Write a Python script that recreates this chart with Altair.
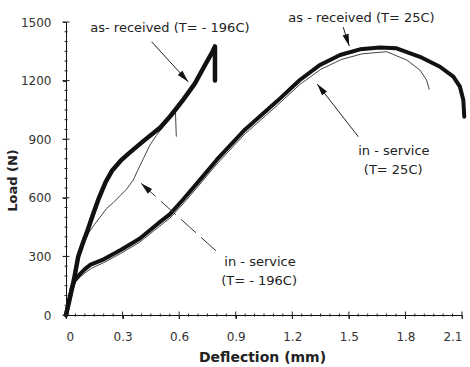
import math
import altair as alt
import pandas as pd

# ---- curve data (deflection mm, load N) ----
rec_m196_x = [0, 0.02, 0.042, 0.065, 0.09, 0.115, 0.145, 0.175, 0.21, 0.245, 0.29, 0.33, 0.41, 0.5, 0.555, 0.62, 0.684, 0.732, 0.778, 0.79, 0.79]
rec_m196_y = [0, 85, 180, 300, 370, 435, 520, 600, 680, 740, 790, 825, 890, 960, 1020, 1100, 1186, 1271, 1350, 1375, 1200]

svc_m196_x = [0, 0.02, 0.042, 0.065, 0.09, 0.12, 0.15, 0.18, 0.215, 0.25, 0.286, 0.322, 0.357, 0.38, 0.41, 0.445, 0.48, 0.516, 0.534, 0.555, 0.58, 0.585]
svc_m196_y = [0, 85, 180, 290, 360, 420, 462, 500, 545, 575, 610, 645, 692, 740, 800, 870, 920, 964, 995, 1020, 1050, 915]

rec_25_x = [0, 0.015, 0.03, 0.045, 0.07, 0.1, 0.13, 0.2, 0.29, 0.39, 0.49, 0.55, 0.62, 0.7, 0.8, 0.95, 1.12, 1.24, 1.347, 1.453, 1.559, 1.665, 1.753, 1.877, 1.983, 2.054, 2.089, 2.107, 2.112]
rec_25_y = [0, 70, 135, 175, 205, 235, 258, 285, 333, 390, 470, 515, 590, 680, 795, 950, 1095, 1203, 1280, 1331, 1360, 1370, 1365, 1322, 1271, 1220, 1169, 1101, 1015]

svc_25_x = [0, 0.015, 0.03, 0.045, 0.07, 0.1, 0.14, 0.2, 0.29, 0.39, 0.49, 0.55, 0.62, 0.7, 0.8, 0.95, 1.12, 1.24, 1.35, 1.46, 1.57, 1.7, 1.806, 1.877, 1.912, 1.926]
svc_25_y = [0, 65, 125, 165, 190, 215, 242, 268, 315, 372, 450, 495, 568, 658, 773, 928, 1073, 1180, 1257, 1308, 1337, 1348, 1306, 1254, 1203, 1156]

# ---- tick values ----
x_major = [0, 0.3, 0.6, 0.9, 1.2, 1.5, 1.8, 2.1]
y_major = [0, 300, 600, 900, 1200, 1500]
x_minor = [round(i * 0.05, 2) for i in range(43) if i % 6 != 0]
y_minor = [i * 50 for i in range(31) if i % 6 != 0]

# ---- annotations ----
ann_text = ["as- received (T= - 196C)", "as - received (T= 25C)", "in - service", "(T= 25C)", "in - service", "(T= - 196C)"]
ann_x = [0.551, 1.567, 1.739, 1.735, 1.029, 1.024]
ann_y = [1469, 1523, 840, 742, 271, 174]

arrow_x0 = [0.454, 1.470, 1.550, 0.795]
arrow_y0 = [1399, 1474, 913, 329]
arrow_x1 = [0.648, 1.502, 1.332, 0.398]
arrow_y1 = [1194, 1377, 1183, 674]
arrow_dash = [0, 0, 0, 1]

W, H = 396, 293
XMAX, YMAX = 2.1, 1500
FONT = "DejaVu Sans"

xs = alt.Scale(domain=[0, XMAX], nice=False, zero=False)
ys = alt.Scale(domain=[0, YMAX], nice=False, zero=False)

x_axis = alt.Axis(
    values=x_major, format=".1~f", grid=False, ticks=True, tickSize=3.5, tickColor="#222",
    domainColor="#111", domainWidth=1, labelFont=FONT, labelFontSize=12,
    labelColor="#333", labelPadding=12.5, title="Deflection (mm)", titleFont=FONT,
    titleFontSize=14, titleFontWeight="bold", titleColor="#222",
    titleX=196, titleY=42, titleAlign="center", titleBaseline="middle",
)
y_axis = alt.Axis(
    values=y_major, format="d", grid=False, ticks=True, tickSize=3.5, tickColor="#222",
    domainColor="#111", domainWidth=1, labelFont=FONT, labelFontSize=12,
    labelColor="#333", labelPadding=11.5, title="Load (N)", titleFont=FONT,
    titleFontSize=13, titleFontWeight="bold", titleColor="#222",
    titleAngle=270, titleX=-54, titleY=158, titleAlign="center", titleBaseline="middle",
)


def X(field):
    return alt.X(field, type="quantitative", scale=xs, axis=x_axis)


def Y(field):
    return alt.Y(field, type="quantitative", scale=ys, axis=y_axis)


def curve_df(xv, yv):
    return pd.DataFrame({"x": xv, "y": yv, "i": list(range(len(xv)))})


def line(df, width, color):
    return alt.Chart(df).mark_line(
        strokeWidth=width, color=color, strokeCap="round", strokeJoin="round", clip=False
    ).encode(x=X("x"), y=Y("y"), order="i:Q")


thin_m196 = line(curve_df(svc_m196_x, svc_m196_y), 1, "#444")
thin_25 = line(curve_df(svc_25_x, svc_25_y), 1, "#444")
thick_25 = line(curve_df(rec_25_x, rec_25_y), 4, "#111")
thick_m196 = line(curve_df(rec_m196_x, rec_m196_y), 4.5, "#111")

# arrow geometry
ang = []
for a, b, c, d in zip(arrow_x0, arrow_y0, arrow_x1, arrow_y1):
    dxp = (c - a) * W / XMAX
    dyp = -(d - b) * H / YMAX
    ang.append(math.degrees(math.atan2(dxp, -dyp)) % 360)
arr_df = pd.DataFrame({"x0": arrow_x0, "y0": arrow_y0, "x1": arrow_x1, "y1": arrow_y1, "a": ang, "dash": arrow_dash})

# segments: solid arrow shafts plus tick marks crossing the axis lines
MAJ, MIN = 3.5, 1.5
hx = lambda px: px * XMAX / W
hy = lambda px: px * YMAX / H
seg_rows = []
for _, r in arr_df[arr_df.dash == 0].iterrows():
    seg_rows.append((r.x0, r.y0, r.x1, r.y1))
for v in x_major:
    seg_rows.append((v, -hy(MAJ), v, hy(MAJ)))
for v in x_minor:
    seg_rows.append((v, -hy(MIN), v, hy(MIN)))
for v in y_major:
    seg_rows.append((-hx(MAJ), v, hx(MAJ), v))
for v in y_minor:
    seg_rows.append((-hx(MIN), v, hx(MIN), v))
seg_df = pd.DataFrame(seg_rows, columns=["x0", "y0", "x1", "y1"])

segments = alt.Chart(seg_df).mark_rule(color="#222", strokeWidth=1).encode(
    x=X("x0"), y=Y("y0"), x2="x1:Q", y2="y1:Q")
shafts_dash = alt.Chart(arr_df[arr_df.dash == 1]).mark_rule(color="#333", strokeWidth=1, strokeDash=[20, 7]).encode(
    x=X("x0"), y=Y("y0"), x2="x1:Q", y2="y1:Q")
heads = alt.Chart(arr_df).mark_point(
    shape="M0,0L0.42,1.6L-0.42,1.6Z", filled=True, size=225, color="#111", opacity=1, strokeWidth=0
).encode(
    x=X("x1"), y=Y("y1"),
    angle=alt.Angle("a:Q", scale=None),
)

# annotation texts
ann_df = pd.DataFrame({"t": ann_text, "x": ann_x, "y": ann_y})
texts = alt.Chart(ann_df).mark_text(font=FONT, fontSize=13, color="#222", align="center", baseline="middle").encode(
    x=X("x"), y=Y("y"), text="t:N")

chart = alt.layer(
    thin_m196, thin_25, thick_25, thick_m196, texts, segments, shafts_dash, heads
).properties(
    width=W, height=H,
    padding={"left": 66, "top": 22, "right": 8, "bottom": 52},
    autosize=alt.AutoSizeParams(type="none"),
    background="white",
).configure_view(stroke=None)

chart.save("out.html", embed_options={"renderer": "svg", "actions": False})
